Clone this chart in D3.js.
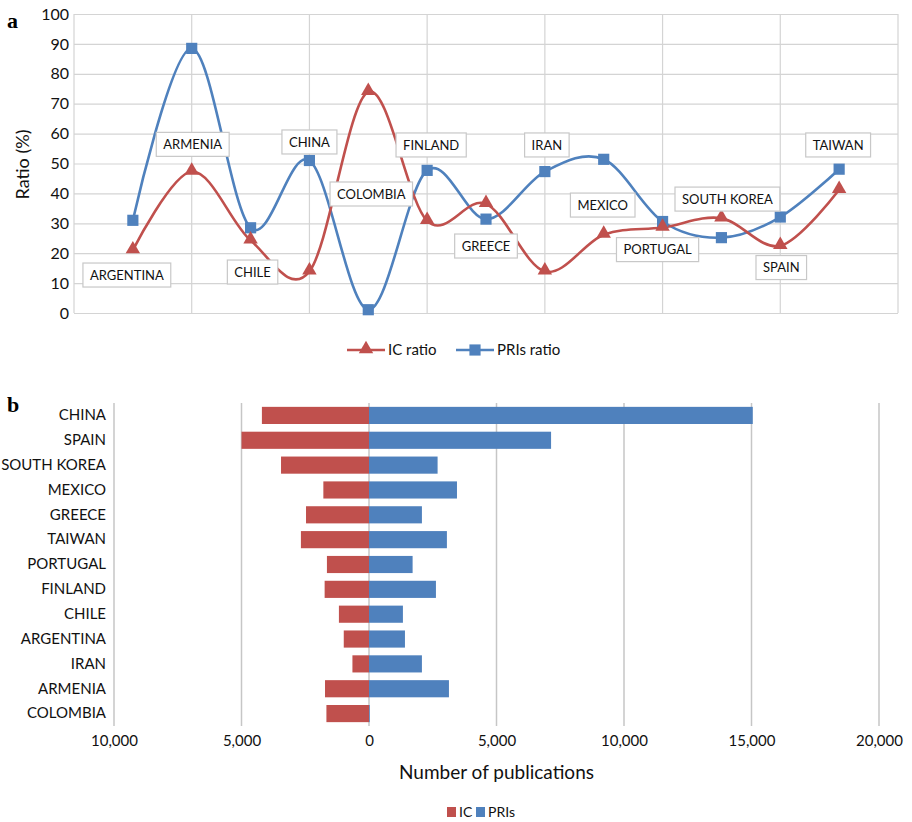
<!DOCTYPE html>
<html>
<head>
<meta charset="utf-8">
<script src="https://cdn.jsdelivr.net/npm/d3@7/dist/d3.min.js"></script>
<style>
  html, body { margin: 0; padding: 0; background: #fff; }
  svg { display: block; font-family: Lato, "Open Sans", sans-serif; }
</style>
</head>
<body>
<svg id="chart" width="912" height="822"></svg>
<script>
// ---- Panel a: ratios by country (alphabetical order) ----
const ratioCountries = ["ARGENTINA", "ARMENIA", "CHILE", "CHINA", "COLOMBIA", "FINLAND", "GREECE",
  "IRAN", "MEXICO", "PORTUGAL", "SOUTH KOREA", "SPAIN", "TAIWAN"];
const icRatio  = [21, 47.3, 24.3, 13.9, 74, 30.8, 36.5, 13.9, 26.2, 28.6, 31.7, 22.5, 41.2];
const priRatio = [31, 88.5, 28.5, 51, 1.1, 47.7, 31.4, 47.3, 51.4, 30.6, 25.2, 32.1, 48.1];
const ratioTicks = [0, 10, 20, 30, 40, 50, 60, 70, 80, 90, 100];

// ---- Panel b: publication counts ----
const pubCountries = ["CHINA", "SPAIN", "SOUTH KOREA", "MEXICO", "GREECE", "TAIWAN", "PORTUGAL",
  "FINLAND", "CHILE", "ARGENTINA", "IRAN", "ARMENIA", "COLOMBIA"];
const icPubs  = [4200, 5000, 3450, 1790, 2470, 2670, 1650, 1740, 1180, 990, 650, 1725, 1670];
const priPubs = [15050, 7140, 2690, 3450, 2075, 3055, 1710, 2625, 1330, 1410, 2075, 3135, 30];
const pubTicks = [-10000, -5000, 0, 5000, 10000, 15000, 20000];

const RED = "#C0504D", BLUE = "#4F81BD", GRID = "#D4D4D4", TEXT = "#111";

const svg = d3.select("#chart");

// ================= Panel a =================
const A = { left: 74, right: 898, top: 14, bottom: 313 };
const xA = d3.scaleLinear().domain([0, ratioCountries.length + 1]).range([A.left, A.right]);
const yA = d3.scaleLinear().domain([0, 100]).range([A.bottom, A.top]);

const gA = svg.append("g");

// horizontal gridlines + y tick labels
const yAxisA = d3.axisLeft(yA).tickValues(ratioTicks).tickSize(-(A.right - A.left)).tickPadding(4);
gA.append("g").attr("transform", `translate(${A.left},0)`).call(yAxisA)
  .call(g => g.select(".domain").remove())
  .call(g => g.selectAll("line").attr("stroke", GRID).attr("stroke-width", 1.2))
  .call(g => g.selectAll("text").attr("fill", TEXT).attr("font-size", 16).attr("font-family", "Lato, sans-serif").attr("dx", -1));

// vertical gridlines every two positions
const xGrid = d3.range(0, ratioCountries.length + 2, 2);
gA.append("g").selectAll("line").data(xGrid).join("line")
  .attr("x1", d => xA(d)).attr("x2", d => xA(d))
  .attr("y1", A.top).attr("y2", A.bottom)
  .attr("stroke", GRID).attr("stroke-width", 1.2);

gA.append("text")
  .attr("transform", `translate(29,${(A.top + A.bottom) / 2 + 1}) rotate(-90)`)
  .attr("text-anchor", "middle").attr("font-size", 18).attr("fill", TEXT)
  .text("Ratio (%)");

svg.append("text").attr("x", 7).attr("y", 28)
  .attr("font-family", "'Liberation Serif', 'DejaVu Serif', serif")
  .attr("font-weight", "bold").attr("font-size", 22).attr("fill", "#000").text("a");

const smooth = d3.line()
  .x((d, i) => xA(i + 1)).y(d => yA(d))
  .curve(d3.curveCardinal.tension(0));

gA.append("path").attr("d", smooth(priRatio)).attr("fill", "none")
  .attr("stroke", BLUE).attr("stroke-width", 2.6);
gA.append("path").attr("d", smooth(icRatio)).attr("fill", "none")
  .attr("stroke", RED).attr("stroke-width", 2.6);

const triangle = d3.symbol().type(d3.symbolTriangle).size(90);
const square = d3.symbol().type(d3.symbolSquare).size(125);

gA.append("g").selectAll("path").data(priRatio).join("path")
  .attr("d", square).attr("fill", BLUE)
  .attr("transform", (d, i) => `translate(${xA(i + 1)},${yA(d)})`);
gA.append("g").selectAll("path").data(icRatio).join("path")
  .attr("d", triangle).attr("fill", RED)
  .attr("transform", (d, i) => `translate(${xA(i + 1)},${yA(d) - 1})`);

// country name boxes: horizontal shift in px and vertical level on the ratio scale
const labelShift = [-6, 1, 2, 0, 3, 4, 0, 2, -1, -5, 6, 1, -1];
const labelLevel = [12.7, 56.4, 13.7, 57.2, 39.8, 56.2, 22.4, 56.2, 36.1, 21.2, 38.1, 15.2, 56.2];

const labels = gA.append("g").selectAll("g").data(ratioCountries).join("g")
  .attr("transform", (d, i) => `translate(${xA(i + 1) + labelShift[i]},${yA(labelLevel[i])})`);
labels.append("rect").attr("class", "box");
labels.append("text").attr("text-anchor", "middle").attr("dy", "0.35em")
  .attr("font-size", 13).attr("fill", TEXT).text(d => d);
labels.each(function () {
  const g = d3.select(this);
  const w = g.select("text").node().getComputedTextLength() + 14;
  g.select("rect").attr("x", -w / 2).attr("y", -12).attr("width", w).attr("height", 24)
    .attr("fill", "#fff").attr("stroke", "#C8C8C8").attr("stroke-width", 1.2);
});

// legend for panel a
const legA = svg.append("g").attr("transform", "translate(0,350)");
legA.append("line").attr("x1", 347).attr("x2", 385).attr("stroke", RED).attr("stroke-width", 2.6);
legA.append("path").attr("d", triangle).attr("fill", RED).attr("transform", "translate(366,-1)");
legA.append("text").attr("x", 388).attr("dy", "0.35em").attr("font-size", 15).attr("fill", TEXT).text("IC ratio");
legA.append("line").attr("x1", 456).attr("x2", 494).attr("stroke", BLUE).attr("stroke-width", 2.6);
legA.append("path").attr("d", square).attr("fill", BLUE).attr("transform", "translate(475,0)");
legA.append("text").attr("x", 497).attr("dy", "0.35em").attr("font-size", 15).attr("fill", TEXT).text("PRIs ratio");

// ================= Panel b =================
const B = { left: 114, right: 879, top: 403, bottom: 726 };
const xB = d3.scaleLinear().domain([-10000, 20000]).range([B.left, B.right]);
const yB = d3.scaleBand().domain(pubCountries).range([B.top, B.bottom]).paddingInner(0.31).paddingOuter(0.155);

const gB = svg.append("g");

gB.append("g").selectAll("line").data(pubTicks).join("line")
  .attr("x1", d => xB(d)).attr("x2", d => xB(d))
  .attr("y1", B.top).attr("y2", B.bottom)
  .attr("stroke", "#C6C6C6").attr("stroke-width", 1.5);

gB.append("g").selectAll("rect").data(icPubs).join("rect")
  .attr("x", d => xB(-d)).attr("width", d => xB(0) - xB(-d))
  .attr("y", (d, i) => yB(pubCountries[i])).attr("height", yB.bandwidth())
  .attr("fill", RED);
gB.append("g").selectAll("rect").data(priPubs).join("rect")
  .attr("x", xB(0)).attr("width", d => xB(d) - xB(0))
  .attr("y", (d, i) => yB(pubCountries[i])).attr("height", yB.bandwidth())
  .attr("fill", BLUE);

// category labels
const yAxisB = d3.axisLeft(yB).tickSize(0).tickPadding(8);
gB.append("g").attr("transform", `translate(${B.left},0)`).call(yAxisB)
  .call(g => g.select(".domain").remove())
  .call(g => g.selectAll("text").attr("fill", TEXT).attr("font-size", 15).attr("font-family", "Lato, sans-serif"));

// value axis labels (absolute counts)
const fmt = d3.format(",");
const xAxisB = d3.axisBottom(xB).tickValues(pubTicks).tickSize(0).tickPadding(9)
  .tickFormat(d => fmt(Math.abs(d)));
gB.append("g").attr("transform", `translate(0,${B.bottom})`).call(xAxisB)
  .call(g => g.select(".domain").remove())
  .call(g => g.selectAll("text").attr("fill", TEXT).attr("font-size", 15).attr("font-family", "Lato, sans-serif"));

gB.append("text").attr("x", (B.left + B.right) / 2).attr("y", 779)
  .attr("text-anchor", "middle").attr("font-size", 19).attr("fill", TEXT)
  .text("Number of publications");

svg.append("text").attr("x", 7).attr("y", 412)
  .attr("font-family", "'Liberation Serif', 'DejaVu Serif', serif")
  .attr("font-weight", "bold").attr("font-size", 22).attr("fill", "#000").text("b");

// legend for panel b
const legB = svg.append("g").attr("transform", "translate(0,812)");
legB.append("rect").attr("x", 447).attr("y", -5).attr("width", 9).attr("height", 10).attr("fill", RED);
legB.append("text").attr("x", 459).attr("dy", "0.35em").attr("font-size", 14).attr("fill", TEXT).text("IC");
legB.append("rect").attr("x", 476).attr("y", -5).attr("width", 9).attr("height", 10).attr("fill", BLUE);
legB.append("text").attr("x", 488).attr("dy", "0.35em").attr("font-size", 14).attr("fill", TEXT).text("PRIs");
</script>
</body>
</html>
